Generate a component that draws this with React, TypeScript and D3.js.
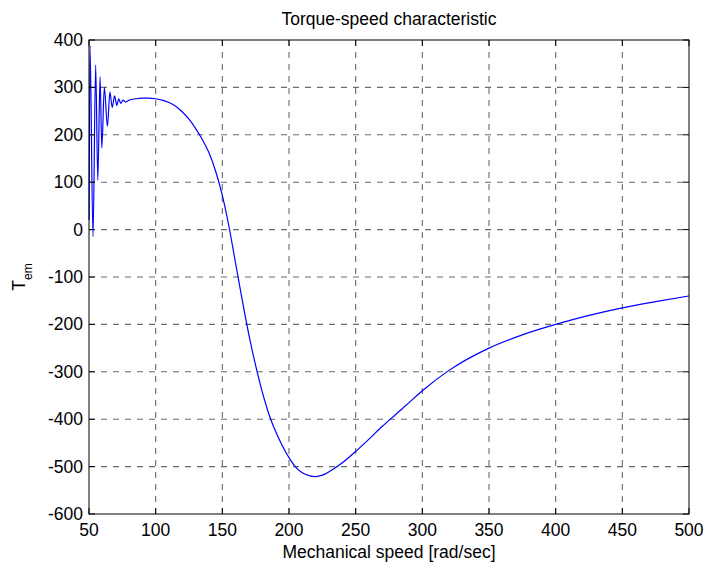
import React from "react";
import * as d3 from "d3";

const xTicks = [50, 100, 150, 200, 250, 300, 350, 400, 450, 500];
const yTicks = [-600, -500, -400, -300, -200, -100, 0, 100, 200, 300, 400];

// Mechanical speed [rad/sec]
const speed = [
  50.1, 50.75, 53.0, 55.0, 56.6, 58.3, 59.6, 61.5, 63.8, 65.7, 67.4, 69.2, 70.8, 72.3, 73.8, 75.5, 77.5,
  80, 85, 90, 95, 100, 105, 110, 115, 120, 125, 130, 135, 140, 145, 150, 155, 160, 165, 170, 175,
  180, 185, 190, 195, 200, 205, 210, 215, 220, 225, 230, 240, 250, 260, 270, 280, 290, 300, 320,
  350, 375, 400, 425, 450, 475, 500,
];
// Electromagnetic torque T_em
const torque = [
  20, 388, -15, 347, 104, 323, 172, 300, 218, 290, 258, 282, 262, 276, 266, 273, 269,
  273, 276, 277.5, 277.5, 276, 273, 268, 260, 248, 233, 213, 190, 162, 123, 72, 6, -72, -150, -223, -287,
  -343, -390, -426, -456, -481, -501, -513, -519, -521, -518, -511, -492, -468, -442, -415, -390, -365, -340, -297,
  -250, -222, -200, -181, -165, -152, -140,
];

const W = 707;
const H = 565;
const M = { left: 89, right: 689, top: 40, bottom: 514 };
const FONT = "'Liberation Sans', Arial, Helvetica, sans-serif";

export default function App() {
  const x = d3.scaleLinear().domain([50, 500]).range([M.left, M.right]);
  const y = d3.scaleLinear().domain([-600, 400]).range([M.bottom, M.top]);
  const pts = speed.map((s, i) => [s, torque[i]] as [number, number]);
  const line = d3
    .line<[number, number]>()
    .x((d) => x(d[0]))
    .y((d) => y(d[1]))
    .curve(d3.curveMonotoneX);
  const tl = 6;
  return (
    <div style={{ position: "fixed", left: 0, top: 0, width: W, height: H, background: "#fff" }}>
      <svg width={W} height={H} style={{ display: "block" }} fontFamily={FONT}>
        <rect x={0} y={0} width={W} height={H} fill="#fff" />
        {/* grid */}
        <g stroke="#6a6a6a" strokeWidth={1.1} strokeDasharray="6,6" fill="none">
          {xTicks.slice(1, -1).map((t) => (
            <line key={"gx" + t} x1={x(t)} x2={x(t)} y1={M.top} y2={M.bottom} />
          ))}
          {yTicks.slice(1, -1).map((t) => (
            <line key={"gy" + t} x1={M.left} x2={M.right} y1={y(t)} y2={y(t)} />
          ))}
        </g>
        {/* data */}
        <path d={line(pts) || ""} fill="none" stroke="#0000ff" strokeWidth={1.2} />
        {/* box */}
        <rect
          x={M.left}
          y={M.top}
          width={M.right - M.left}
          height={M.bottom - M.top}
          fill="none"
          stroke="#000"
          strokeWidth={1}
        />
        {/* ticks */}
        <g stroke="#000" strokeWidth={1}>
          {xTicks.map((t) => (
            <g key={"tx" + t}>
              <line x1={x(t)} x2={x(t)} y1={M.bottom} y2={M.bottom - tl} />
              <line x1={x(t)} x2={x(t)} y1={M.top} y2={M.top + tl} />
            </g>
          ))}
          {yTicks.map((t) => (
            <g key={"ty" + t}>
              <line x1={M.left} x2={M.left + tl} y1={y(t)} y2={y(t)} />
              <line x1={M.right} x2={M.right - tl} y1={y(t)} y2={y(t)} />
            </g>
          ))}
        </g>
        {/* tick labels */}
        <g fontSize={17.5} fill="#000">
          {xTicks.map((t) => (
            <text key={"lx" + t} x={x(t)} y={536} textAnchor="middle">
              {t}
            </text>
          ))}
          {yTicks.map((t) => (
            <text key={"ly" + t} x={83} y={y(t) + 6} textAnchor="end">
              {t}
            </text>
          ))}
        </g>
        {/* title & labels */}
        <text x={(M.left + M.right) / 2} y={25} textAnchor="middle" fontSize={17.5} fill="#000">
          Torque-speed characteristic
        </text>
        <text x={(M.left + M.right) / 2} y={558} textAnchor="middle" fontSize={17.5} fill="#000">
          Mechanical speed [rad/sec]
        </text>
        <text
          transform={`translate(25,${(M.top + M.bottom) / 2}) rotate(-90)`}
          textAnchor="middle"
          fontSize={17.5}
          fill="#000"
        >
          T<tspan fontSize={12} dy={7}>em</tspan>
        </text>
      </svg>
    </div>
  );
}
